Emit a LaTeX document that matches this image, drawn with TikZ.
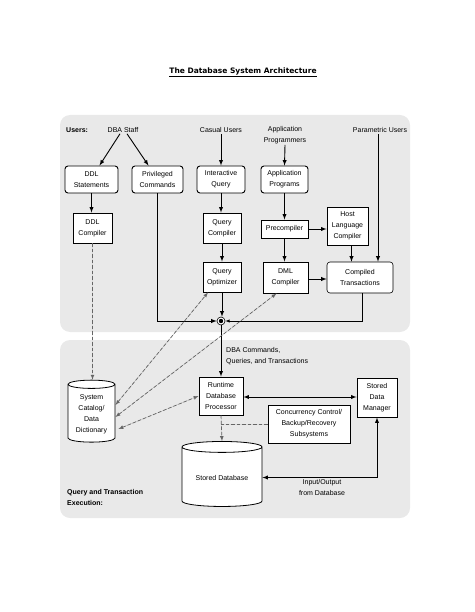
\documentclass[tikz,border=0pt]{standalone}
\usepackage{fontspec}
\setsansfont{Liberation Sans}
\newfontfamily\titlefont{DejaVu Sans}
\usetikzlibrary{calc,shapes.geometric}
\begin{document}
\begin{tikzpicture}[x=1pt,y=-1pt,>=latex,
  every node/.style={font=\sffamily\fontsize{7}{11}\selectfont, align=center, inner sep=1pt},
  box/.style={draw, fill=white, line width=0.9pt},
  rbox/.style={box, rounded corners=3pt},
  db/.style={draw, fill=white, line width=0.8pt, cylinder, shape border rotate=90, aspect=0.25},
  link/.style={->, line width=0.9pt},
  dlink/.style={dashed, dash pattern=on 3.5pt off 2pt, line width=0.7pt, draw=black!60, fill=black!60}]
\useasboundingbox (0,0) rectangle (474,612);
\fill[gray!17, rounded corners=10pt] (60,115) rectangle (410,332);
\fill[gray!17, rounded corners=10pt] (60,340) rectangle (410,518);

\node (title) at (243,72) {\titlefont\bfseries\fontsize{7.5}{9}\selectfont\underline{The Database System Architecture}};

% users
\node (users) at (65,130) [anchor=west] {\bfseries Users:};
\node (dba) at (123,130) {DBA Staff};
\node (casual) at (221,130) {Casual Users};
\node (appprog) at (285,135) {Application\\Programmers};
\node (param) at (380,130) {Parametric Users};

% upper boxes
\node (ddlst) at (91.5,179.5) [rbox, minimum width=53, minimum height=27] {DDL\\Statements};
\node (priv) at (157.5,179.5) [rbox, minimum width=51, minimum height=27] {Privileged\\Commands};
\node (iq) at (221,179.5) [rbox, minimum width=48, minimum height=27] {Interactive\\Query};
\node (aprg) at (284.5,179.5) [rbox, minimum width=47, minimum height=27] {Application\\Programs};
\node (ddlc) at (92.5,228) [box, minimum width=39, minimum height=30] {DDL\\Compiler};
\node (qc) at (222,228) [box, minimum width=38, minimum height=30] {Query\\Compiler};
\node (prec) at (284.5,229) [box, minimum width=47, minimum height=18] {Precompiler};
\node (hlc) at (347.5,226) [box, minimum width=41, minimum height=38] {Host\\Language\\Compiler};
\node (qo) at (222,277) [box, minimum width=38, minimum height=30] {Query\\Optimizer};
\node (dml) at (285.5,277.5) [box, minimum width=45, minimum height=31] {DML\\Compiler};
\node (ctrans) at (360,277.5) [rbox, line width=0.6pt, minimum width=66, minimum height=31] {Compiled\\Transactions};
\node (jn) at (221,321) [circle, draw, fill=white, line width=0.6pt, minimum size=8pt, inner sep=0pt] {};
\fill (jn) circle (2.2pt);

\draw[link] ([xshift=-3pt]dba.south) -- ([xshift=8pt]ddlst.north);
\draw[link] ([xshift=4pt]dba.south) -- ([xshift=-9pt]priv.north);
\draw[link] (casual.south) -- (iq.north);
\draw[link] (appprog.south) -- (aprg.north);
\draw[link] (ddlst.south) -- (ddlst.south |- ddlc.north);
\draw[link] (iq.south) -- (iq.south |- qc.north);
\draw[link] (qc.south) -- (qo.north);
\draw[link] (aprg.south) -- (prec.north);
\draw[link] (prec.south) -- (prec.south |- dml.north);
\draw[link] (prec.east) -- (prec.east -| hlc.west);
\draw[link] ([xshift=4pt]hlc.south) -- ([xshift=4pt]hlc.south |- ctrans.north);
\draw[link] ([xshift=-2pt]param.south) -- ([xshift=-2pt]param.south |- ctrans.north);
\draw[link] (dml.east |- 0,279) -- (ctrans.west |- 0,279);
\draw[link] (priv.south) |- (jn.west);
\draw[link] (qo.south) -- (qo.south |- jn.north);
\draw[->, line width=0.5pt] ([xshift=2pt]ctrans.south) |- (jn.east);

% lower part
\node (dbacmd) at (225,356) [anchor=west, align=left] {DBA Commands,\\Queries, and Transactions};
\node (rdp) at (221,396) [box, minimum width=44, minimum height=38] {Runtime\\Database\\Processor};
\node (sdm) at (377,397.5) [box, minimum width=40, minimum height=39] {Stored\\Data\\Manager};
\node (cc) at (309,424) [box, minimum width=82, minimum height=38] {Concurrency Control/\\Backup/Recovery\\Subsystems};
\node (cat) at (91.5,414) [db, minimum width=47, minimum height=62] {System\\Catalog/\\Data\\Dictionary};
\node (sdb) at (222,477.5) [db, aspect=0.2, minimum width=80, minimum height=65] {Stored Database};
\node (io) at (322,487) {Input/Output\\from Database};
\node (qte) at (66,497) [anchor=west, align=left] {\bfseries Query and Transaction\\\bfseries Execution:};

\draw[link] (jn.south) -- (rdp.north);
\draw[link, <->] (rdp.east |- 0,397) -- (sdm.west |- 0,397);
\draw[link, <->] (sdb.east) -| (sdm.south);
\draw[dlink, ->] (ddlc.south) -- (ddlc.south |- cat.north);
\draw[dlink, <->] ([yshift=9pt]cat.east) -- ([xshift=-14pt]qo.south);
\draw[dlink, <->] ([yshift=-3pt]cat.east) -- ([xshift=-9pt]dml.south);
\draw[dlink, <->] ([xshift=3pt,yshift=-15pt]cat.east) -- (rdp.west);
\draw[dlink, ->] (rdp.south) -- (sdb.north);
\draw[dlink] (cc.west) -- (cc.west -| rdp.south);
\end{tikzpicture}
\end{document}
